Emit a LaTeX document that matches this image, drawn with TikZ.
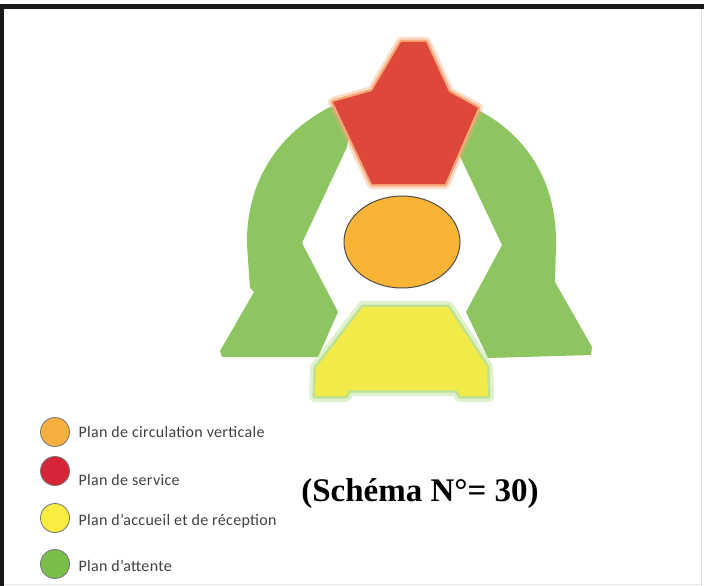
\documentclass[tikz,border=0pt]{standalone}
\usepackage{fontspec}
\setmainfont{Liberation Serif}
\newfontfamily\legfont[LetterSpace=2]{Carlito}
\usetikzlibrary{positioning}

\tikzset{
    legdot/.style={circle, draw=black!55, line width=0.8pt, minimum size=29pt, inner sep=0pt},
    leglabel/.style={inner sep=0pt, text=black!75, font=\legfont\fontsize{16}{18}\selectfont},
    glow/.style={line join=round, line width=#1}
}

\begin{document}
\begin{tikzpicture}[x=1pt, y=-1pt]
    \definecolor{attente}{RGB}{141,197,96}
    \definecolor{service}{RGB}{221,72,58}
    \definecolor{serviceglow}{RGB}{247,168,118}
    \definecolor{accueil}{RGB}{241,234,72}
    \definecolor{accueilglow}{RGB}{188,226,146}
    \definecolor{circul}{RGB}{248,180,52}
    \definecolor{leg1}{RGB}{245,176,62}
    \definecolor{leg2}{RGB}{214,36,56}
    \definecolor{leg3}{RGB}{250,236,64}
    \definecolor{leg4}{RGB}{122,190,74}

    \useasboundingbox (0,0) rectangle (704,586);
    \fill[white] (0,0) rectangle (704,586);

    % frame
    \draw[black!90, line width=5pt] (0,7) -- (704,7);
    \draw[black!90, line width=4pt] (2,5) -- (2,586);
    \draw[black!12, line width=1pt] (701,9) -- (701,586);
    \draw[black!10, line width=1pt] (4,584) -- (701,584);

    % plan d'attente
    \fill[attente] (350,128) -- (340,104) -- (328,108)
        .. controls (272,138) and (246,188) .. (247,245)
        -- (250,288) -- (254,292) -- (220,351) -- (222,357) -- (318,357)
        -- (338,312) -- (302,243) -- (347,147) -- cycle;
    \fill[attente] (455,128) -- (466,104) -- (478,110)
        .. controls (532,138) and (557,188) .. (556,245)
        -- (555,282) -- (592,347) -- (591,355) -- (488,358)
        -- (466,312) -- (502,245) -- (457,150) -- cycle;

    % plan de service
    \def\servicepath{(401,42) -- (426,42) -- (449,92) -- (478,108) -- (445,184)
        -- (372,184) -- (333,102) -- (372,91) -- cycle}
    \draw[serviceglow, glow=10pt, opacity=0.4] \servicepath;
    \draw[serviceglow, glow=4.5pt] \servicepath;
    \fill[service] \servicepath;

    % plan de circulation verticale
    \fill[circul, draw=black!70, line width=1pt] (402,242) ellipse (58 and 46);

    % plan d'accueil
    \def\accueilpath{(363,307) -- (448,307) -- (487,367) -- (488,396) -- (460,396)
        -- (457,390) -- (349,390) -- (346,396) -- (315,396) -- (316,368) -- cycle}
    \draw[accueilglow, glow=12pt, opacity=0.45] \accueilpath;
    \draw[accueilglow, glow=5pt] \accueilpath;
    \fill[accueil] \accueilpath;

    % legende
    \foreach \i/\yy/\dy/\txt in {1/432/0/{Plan de circulation verticale},
                                 2/471/-9/{Plan de service},
                                 3/518/-3/{Plan d’accueil et de réception},
                                 4/564/-2/{Plan d’attente}} {
        \node[legdot, fill=leg\i] (dot-\i) at (55,\yy) {};
        \node[leglabel, right=8.5pt of dot-\i, yshift=\dy pt] (lab-\i) {\txt};
    }

    \node[font=\bfseries\fontsize{33}{38}\selectfont] (titre) at (420,494) {(Schéma N°= 30)};
\end{tikzpicture}
\end{document}
